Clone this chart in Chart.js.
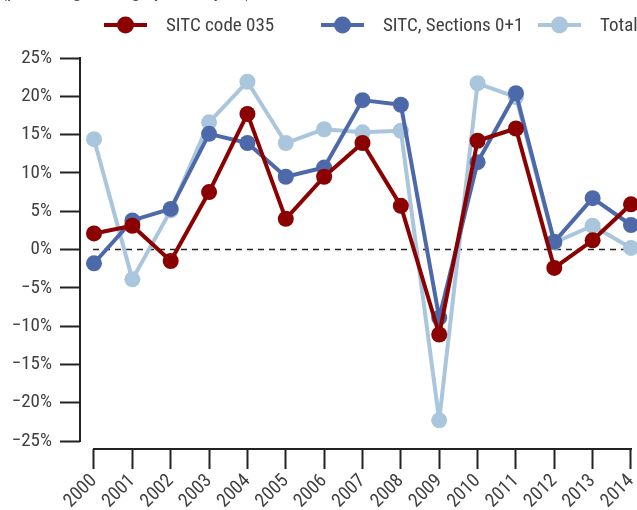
<!DOCTYPE html>
<html>
<head>
<meta charset="utf-8">
<script src="https://cdn.jsdelivr.net/npm/chart.js@4/dist/chart.umd.min.js"></script>
<style>
  html, body { margin: 0; padding: 0; background: #fff; }
  canvas { display: block; }
</style>
</head>
<body>
<canvas id="chart" width="637" height="510"></canvas>
<script>
// Datos
const years = [2000, 2001, 2002, 2003, 2004, 2005, 2006, 2007, 2008, 2009, 2010, 2011, 2012, 2013, 2014];
const sitc035 = [2.1, 3.1, -1.5, 7.5, 17.7, 4.0, 9.5, 13.9, 5.7, -11.1, 14.2, 15.8, -2.4, 1.2, 5.9];
const sitc01 = [-1.8, 3.8, 5.3, 15.1, 13.9, 9.5, 10.7, 19.5, 18.9, -8.9, 11.4, 20.4, 1.0, 6.7, 3.2];
const total = [14.4, -3.9, 5.1, 16.6, 21.9, 13.9, 15.7, 15.3, 15.5, -22.3, 21.7, 19.9, 0.9, 3.1, 0.2];
const seriesNames = ['SITC code 035', 'SITC, Sections 0+1', 'Total'];
const seriesColors = ['#8b0000', '#4e69a9', '#a9c6dd'];
const yTicks = [-25, -20, -15, -10, -5, 0, 5, 10, 15, 20, 25];

const FONT = "'Roboto Condensed', 'Liberation Sans Narrow', sans-serif";
const TEXT = '#404040';

// Ejes "sueltos", linea de cero y leyenda
const decor = {
    id: 'decor',
    beforeDatasetsDraw(chart) {
        const ctx = chart.ctx;
        const x = chart.scales.x, y = chart.scales.y;
        const area = chart.chartArea;
        ctx.save();
        // linea de cero
        ctx.strokeStyle = '#222';
        ctx.lineWidth = 1.3;
        ctx.setLineDash([6, 5]);
        ctx.beginPath();
        ctx.moveTo(x.getPixelForValue(years[0]) - 1, y.getPixelForValue(0));
        ctx.lineTo(area.right, y.getPixelForValue(0));
        ctx.stroke();
        ctx.setLineDash([]);
        // eje y
        ctx.lineWidth = 2;
        ctx.beginPath();
        ctx.moveTo(area.left, y.getPixelForValue(yTicks[yTicks.length - 1]) - 1);
        ctx.lineTo(area.left, y.getPixelForValue(yTicks[0]) + 1);
        ctx.stroke();
        // eje x
        ctx.beginPath();
        ctx.moveTo(x.getPixelForValue(years[0]) - 1, area.bottom);
        ctx.lineTo(x.getPixelForValue(years[years.length - 1]) + 1, area.bottom);
        ctx.stroke();
        ctx.restore();
    },
    afterDraw(chart) {
        const ctx = chart.ctx;
        ctx.save();
        // subtitulo recortado arriba
        ctx.fillStyle = TEXT;
        ctx.font = '19px ' + FONT;
        ctx.textBaseline = 'alphabetic';
        ctx.fillText('(percentage change year-on-year)', 1, -3);
        // leyenda
        const ly = 25;
        chart.data.datasets.forEach(function (ds, i) {
            const x0 = 104 + i * 217;
            ctx.strokeStyle = ds.borderColor;
            ctx.lineWidth = 4;
            ctx.beginPath();
            ctx.moveTo(x0, ly);
            ctx.lineTo(x0 + 43, ly);
            ctx.stroke();
            ctx.fillStyle = ds.borderColor;
            ctx.beginPath();
            ctx.arc(x0 + 21.5, ly, 8.5, 0, Math.PI * 2);
            ctx.fill();
            ctx.fillStyle = TEXT;
            ctx.textBaseline = 'middle';
            ctx.fillText(ds.label, x0 + 62, ly + 1);
        });
        ctx.restore();
    }
};

const pxPerPct = (441 - 58) / 50;
const pxPerYear = (631 - 94) / 14;

new Chart(document.getElementById('chart'), {
    type: 'line',
    data: {
        datasets: [sitc035, sitc01, total].map(function (vals, i) {
            return {
                label: seriesNames[i],
                data: years.map(function (yr, k) { return { x: yr, y: vals[k] }; }),
                borderColor: seriesColors[i],
                backgroundColor: seriesColors[i],
                borderWidth: 4,
                borderJoinStyle: 'round',
                pointRadius: 8,
                pointHoverRadius: 8,
                pointBorderWidth: 0,
                tension: 0,
                clip: false
            };
        })
    },
    options: {
        responsive: false,
        animation: false,
        devicePixelRatio: 1,
        layout: { autoPadding: false, padding: { top: 58, right: 0, left: 0, bottom: 0 } },
        plugins: { legend: { display: false }, tooltip: { enabled: false } },
        scales: {
            x: {
                type: 'linear',
                min: 2000 - 14 / pxPerYear,
                max: 2014 + 6 / pxPerYear,
                afterBuildTicks: function (s) { s.ticks = years.map(function (v) { return { value: v }; }); },
                afterFit: function (s) {
                    s.height = 61;
                    s.paddingLeft = 0;
                    s.paddingRight = 0;
                },
                border: { display: false },
                grid: { drawOnChartArea: false, drawTicks: true, tickLength: 20, tickColor: '#222', tickWidth: 2 },
                ticks: {
                    color: TEXT,
                    font: { family: FONT, size: 19 },
                    autoSkip: false,
                    minRotation: 45, maxRotation: 45,
                    padding: 1,
                    callback: function (v) { return String(v); }
                }
            },
            y: {
                min: -25 - 8 / pxPerPct,
                max: 25,
                afterBuildTicks: function (s) { s.ticks = yTicks.map(function (v) { return { value: v }; }); },
                afterFit: function (s) { s.width = 80; },
                border: { display: false },
                grid: { drawOnChartArea: false, drawTicks: true, tickLength: 20, tickColor: '#222', tickWidth: 2 },
                ticks: {
                    color: TEXT,
                    font: { family: FONT, size: 19 },
                    autoSkip: false,
                    padding: 8,
                    callback: function (v) { return String(v).replace('-', '\u2212') + '%'; }
                }
            }
        }
    },
    plugins: [decor]
});
</script>
</body>
</html>
